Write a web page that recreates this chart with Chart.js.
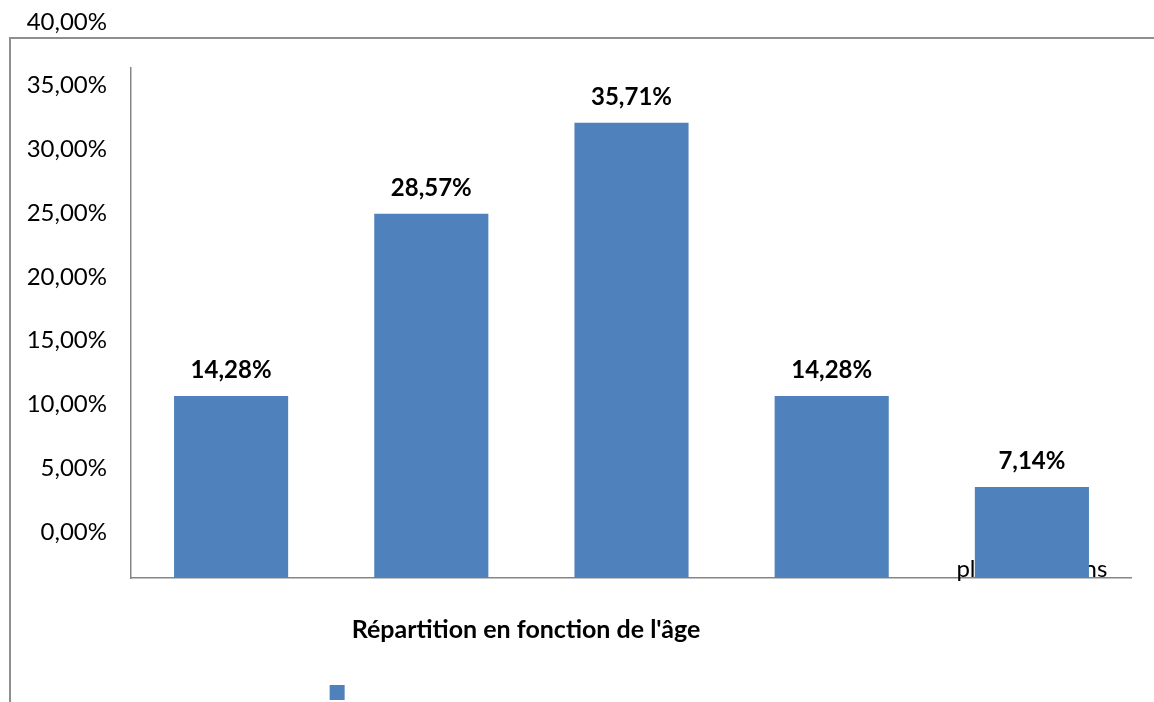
<!DOCTYPE html>
<html>
<head>
<meta charset="utf-8">
<script src="https://cdn.jsdelivr.net/npm/chart.js@4"></script>
<style>
  body { margin: 0; width: 1154px; height: 702px; overflow: hidden; position: relative; background: #fff; }
  #frame { position: absolute; left: 9px; top: 37px; width: 1200px; height: 720px;
           border-top: 2px solid #8e8e8e; border-left: 2px solid #8e8e8e; }
  #age-chart { position: absolute; left: -80px; top: 0; }
</style>
</head>
<body>
<div id="frame"></div>
<canvas id="age-chart" width="1212" height="710"></canvas>
<script>
const categories = ['20-30 ans', '30-40 ans', '40-50 ans', '50-60 ans', 'plus de 60 ans']
const shares = [14.28, 28.57, 35.71, 14.28, 7.14]
const chartTitle = "Répartition en fonction de l'âge"
const barColor = '#4F81BD'
const axisColor = '#868686'

const pct = v => v.toFixed(2).replace('.', ',') + '%'

// the legend entry has no visible name, only the square, sitting left of centre
const measure = document.createElement('canvas').getContext('2d')
measure.font = '12px Lato'
const blankName = ' '.repeat(Math.round(371 / measure.measureText(' ').width))

const barLabels = {
  id: 'barLabels',
  afterDatasetsDraw(chart) {
    const ctx = chart.ctx
    const meta = chart.getDatasetMeta(0)
    ctx.save()
    ctx.font = 'bold 24px Lato'
    ctx.fillStyle = '#000'
    ctx.textAlign = 'center'
    ctx.textBaseline = 'alphabetic'
    meta.data.forEach((bar, i) => {
      ctx.fillText(pct(shares[i]), bar.x, bar.y - 18)
    })
    ctx.restore()
  }
}

const ctx = document.getElementById('age-chart')

const myChart = new Chart(ctx, {
  type: 'bar',
  data: {
    labels: categories,
    datasets: [{
      label: blankName,
      data: shares,
      backgroundColor: barColor,
      borderWidth: 0,
      barPercentage: 0.57,
      categoryPercentage: 1
    }]
  },
  plugins: [barLabels],
  options: {
    responsive: false,
    animation: false,
    layout: { padding: { top: 68, left: 0, right: 0, bottom: 0 } },
    scales: {
      x: {
        grid: { display: false },
        border: { display: true, color: axisColor, width: 1.5 },
        ticks: {
          mirror: true,
          padding: -6,
          autoSkip: false,
          maxRotation: 0,
          color: '#000',
          font: { family: 'Lato', size: 24 }
        },
        afterFit: scale => { scale.height = 19 }
      },
      y: {
        min: 0,
        max: 40,
        grid: { display: false },
        border: { display: true, color: axisColor, width: 1.5 },
        ticks: {
          stepSize: 5,
          padding: 16,
          labelOffset: -46,
          color: '#000',
          font: { family: 'Lato', size: 24 },
          callback: v => pct(v)
        },
        afterFit: scale => { scale.width = 211 }
      }
    },
    plugins: {
      title: {
        display: true,
        text: chartTitle,
        position: 'bottom',
        weight: 500,
        color: '#000',
        font: { family: 'Lato', size: 25, weight: 'bold' },
        padding: { top: 18, bottom: 30 }
      },
      legend: {
        position: 'bottom',
        weight: 1000,
        labels: {
          boxWidth: 15,
          boxHeight: 15,
          padding: 10,
          font: { family: 'Lato', size: 12 },
          generateLabels: chart => [{
            text: blankName,
            fillStyle: barColor,
            strokeStyle: barColor,
            lineWidth: 0,
            datasetIndex: 0
          }]
        }
      },
      tooltip: { enabled: false }
    }
  }
})
</script>
</body>
</html>
